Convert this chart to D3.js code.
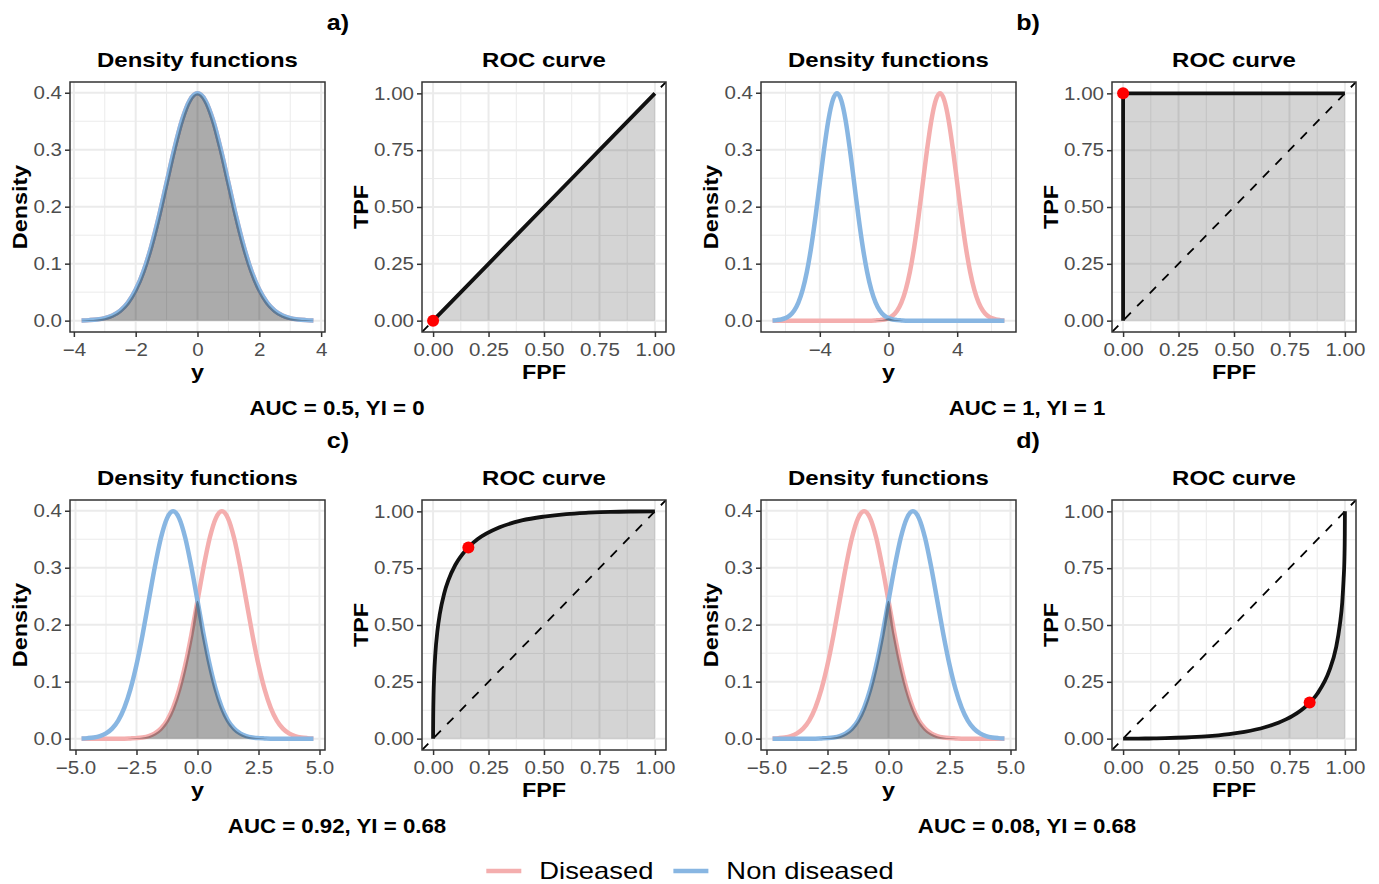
<!DOCTYPE html>
<html>
<head>
<meta charset="utf-8">
<script src="https://cdn.jsdelivr.net/npm/d3@7"></script>
<style>
body { margin: 0; background: #fff; }
text { font-family: "Liberation Sans", Arial, Helvetica, sans-serif; }
</style>
</head>
<body>
<svg id="chart" width="1379" height="884"></svg>
<script>
// ---- data ----
var panelTags = ["a)", "b)", "c)", "d)"];
var captions = ["AUC = 0.5, YI = 0", "AUC = 1, YI = 1", "AUC = 0.92, YI = 0.68", "AUC = 0.08, YI = 0.68"];
var groupNames = ["Diseased", "Non diseased"];

// centre of each density curve, per panel
var diseasedMeans = [0, 3, 1, -1];
var nonDiseasedMeans = [0, -3, -1, 1];

// height of a density curve at a distance from its centre
var densityOffsets = [-3.75, -3.5, -3.25, -3, -2.75, -2.5, -2.25, -2, -1.75, -1.5, -1.25, -1, -0.75, -0.5, -0.25, 0,
                      0.25, 0.5, 0.75, 1, 1.25, 1.5, 1.75, 2, 2.25, 2.5, 2.75, 3, 3.25, 3.5, 3.75];
var densityShape = [0.0004, 0.0009, 0.0020, 0.0044, 0.0091, 0.0175, 0.0317, 0.0540, 0.0863, 0.1295, 0.1826, 0.2420, 0.3011, 0.3521, 0.3867, 0.3989,
                    0.3867, 0.3521, 0.3011, 0.2420, 0.1826, 0.1295, 0.0863, 0.0540, 0.0317, 0.0175, 0.0091, 0.0044, 0.0020, 0.0009, 0.0004];

var densityYTicks = [0, 0.1, 0.2, 0.3, 0.4];
var densityXTicks = [[-4, -2, 0, 2, 4], [-4, 0, 4], [-5, -2.5, 0, 2.5, 5], [-5, -2.5, 0, 2.5, 5]];
var rocTicks = [0, 0.25, 0.5, 0.75, 1];

// ROC curves (FPF, TPF) per panel
var rocFPF = [
  [0, 0.25, 0.5, 0.75, 1],
  [0, 0.000001, 0.0001, 0.001, 0.01, 0.1, 1],
  [0, 0.00001, 0.0001, 0.0005, 0.001, 0.002, 0.005, 0.01, 0.02, 0.03, 0.05, 0.07, 0.1, 0.15, 0.2, 0.3, 0.4, 0.5, 0.6, 0.7, 0.8, 0.9, 1],
  [0, 0.012, 0.043, 0.099, 0.138, 0.190, 0.282, 0.372, 0.478, 0.547, 0.639, 0.700, 0.764, 0.8325, 0.877, 0.930, 0.960, 0.977, 0.988, 0.994, 0.998, 0.9995, 1]
];
var rocTPF = [
  [0, 0.25, 0.5, 0.75, 1],
  [0, 0.894, 0.989, 0.998, 0.99997, 1, 1],
  [0, 0.012, 0.043, 0.099, 0.138, 0.190, 0.282, 0.372, 0.478, 0.547, 0.639, 0.700, 0.764, 0.8325, 0.877, 0.930, 0.960, 0.977, 0.988, 0.994, 0.998, 0.9995, 1],
  [0, 0.00001, 0.0001, 0.0005, 0.001, 0.002, 0.005, 0.01, 0.02, 0.03, 0.05, 0.07, 0.1, 0.15, 0.2, 0.3, 0.4, 0.5, 0.6, 0.7, 0.8, 0.9, 1]
];

// optimal cut-off point (Youden) per panel
var cutFPF = [0, 0, 0.159, 0.841];
var cutTPF = [0, 1, 0.841, 0.159];

// ---- layout and style ----
var layout = {
  densityLeft: [70, 761, 70, 761],
  rocLeft: [422, 1112, 422, 1112],
  top: [82, 82, 500, 500],
  densityWidth: 255,
  rocWidth: 244,
  height: 250,
  tagX: [338, 1028, 338, 1028],
  tagY: [30, 30, 448, 448],
  captionX: [337, 1027, 337, 1027],
  captionY: [415, 415, 833, 833]
};
var colors = { diseased: "#F4AEAE", nonDiseased: "#88B6E2" };
var stretch = 1.14; // the glyphs in the picture are a bit wide

var svg = d3.select("#chart");

var stretchText = function(sel){
  sel.each(function(){
    var len = this.getComputedTextLength();
    d3.select(this).attr("textLength", len * stretch).attr("lengthAdjust", "spacingAndGlyphs");
  });
};

var expand = function(ext, frac){
  var pad = (ext[1] - ext[0]) * frac;
  return [ext[0] - pad, ext[1] + pad];
};

// minor breaks halfway between the majors
var minorTicks = function(ticks, domain){
  var step = ticks[1] - ticks[0];
  var out = [];
  for (var i = -1; i < ticks.length; i++) out.push(ticks[0] + (i + 0.5) * step);
  return out.filter(function(v){ return v >= domain[0] && v <= domain[1]; });
};

var clipCount = 0;

//draws background, grid, returns the plotting group
var makeFrame = function(p){
  var g = svg.append("g");
  g.append("rect").attr("x", p.left).attr("y", p.top)
    .attr("width", p.width).attr("height", p.height).attr("fill", "#fff");

  var xd = p.x.domain(), yd = p.y.domain();
  var grid = g.append("g").attr("stroke", "#EBEBEB");
  minorTicks(p.xTicks, xd).forEach(function(v){
    grid.append("line").attr("x1", p.x(v)).attr("x2", p.x(v))
      .attr("y1", p.top).attr("y2", p.top + p.height).attr("stroke-width", 1);
  });
  minorTicks(p.yTicks, yd).forEach(function(v){
    grid.append("line").attr("y1", p.y(v)).attr("y2", p.y(v))
      .attr("x1", p.left).attr("x2", p.left + p.width).attr("stroke-width", 1);
  });
  p.xTicks.forEach(function(v){
    grid.append("line").attr("x1", p.x(v)).attr("x2", p.x(v))
      .attr("y1", p.top).attr("y2", p.top + p.height).attr("stroke-width", 2);
  });
  p.yTicks.forEach(function(v){
    grid.append("line").attr("y1", p.y(v)).attr("y2", p.y(v))
      .attr("x1", p.left).attr("x2", p.left + p.width).attr("stroke-width", 2);
  });

  var id = "clip" + (clipCount++);
  svg.append("clipPath").attr("id", id).append("rect")
    .attr("x", p.left).attr("y", p.top).attr("width", p.width).attr("height", p.height);
  p.g = g;
  p.plot = g.append("g").attr("clip-path", "url(#" + id + ")");
  return p;
};

//border, axes and titles
var finishFrame = function(p){
  var g = p.g;
  g.append("rect").attr("x", p.left).attr("y", p.top)
    .attr("width", p.width).attr("height", p.height)
    .attr("fill", "none").attr("stroke", "#333").attr("stroke-width", 1.5);

  var gx = g.append("g").attr("transform", "translate(0," + (p.top + p.height) + ")")
    .call(d3.axisBottom(p.x).tickValues(p.xTicks).tickFormat(p.xFmt)
      .tickSize(5).tickSizeOuter(0).tickPadding(6));
  var gy = g.append("g").attr("transform", "translate(" + p.left + ",0)")
    .call(d3.axisLeft(p.y).tickValues(p.yTicks).tickFormat(p.yFmt)
      .tickSize(5).tickSizeOuter(0).tickPadding(3));
  [gx, gy].forEach(function(ax){
    ax.select(".domain").remove();
    ax.selectAll("line").attr("stroke", "#333").attr("stroke-width", 1.5);
    ax.selectAll("text").attr("fill", "#4D4D4D").style("font-size", "18px");
    stretchText(ax.selectAll("text"));
  });

  var cx = p.left + p.width / 2;
  var t = g.append("text").attr("x", cx).attr("y", p.top - 15)
    .attr("text-anchor", "middle").style("font-size", "21px").style("font-weight", "bold")
    .text(p.title);
  stretchText(t);

  var xl = g.append("text").attr("x", cx).attr("y", p.top + p.height + 47)
    .attr("text-anchor", "middle").style("font-size", "20.5px").style("font-weight", "bold")
    .text(p.xLabel);
  stretchText(xl);

  // tick label boxes are local to the axis group, which sits at p.left
  var labelLeft = p.left + d3.min(gy.selectAll("text").nodes(), function(n){ return n.getBBox().x; });
  var yl = g.append("text")
    .attr("transform", "translate(" + (labelLeft - 6) + "," + (p.top + p.height / 2) + ") rotate(-90)")
    .attr("text-anchor", "middle").style("font-size", "20.5px").style("font-weight", "bold")
    .text(p.yLabel);
  stretchText(yl);
};

var densityAt = function(x, mean){
  var i = densityOffsets.findIndex(function(o){ return Math.abs(mean + o - x) < 1e-9; });
  return i < 0 ? 0 : densityShape[i];
};

for (var i = 0; i < 4; i++){
  // ---- density panel ----
  var means = [diseasedMeans[i], nonDiseasedMeans[i]];
  var xs = [];
  means.forEach(function(m){ densityOffsets.forEach(function(o){ xs.push(m + o); }); });
  xs = d3.sort(Array.from(new Set(xs)));
  var rows = xs.map(function(x){
    return { x: x, d: densityAt(x, means[0]), n: densityAt(x, means[1]) };
  });

  var dx = d3.scaleLinear().domain(expand(d3.extent(xs), 0.05))
    .range([layout.densityLeft[i], layout.densityLeft[i] + layout.densityWidth]);
  var dy = d3.scaleLinear().domain(expand([0, d3.max(densityShape)], 0.05))
    .range([layout.top[i] + layout.height, layout.top[i]]);

  var dp = makeFrame({
    left: layout.densityLeft[i], top: layout.top[i], width: layout.densityWidth, height: layout.height,
    x: dx, y: dy, xTicks: densityXTicks[i], yTicks: densityYTicks,
    xFmt: i < 2 ? d3.format("d") : d3.format(".1f"), yFmt: d3.format(".1f"),
    title: "Density functions", xLabel: "y", yLabel: "Density"
  });

  var line = function(key){
    return d3.line().curve(d3.curveMonotoneX)
      .x(function(r){ return dx(r.x); }).y(function(r){ return dy(r[key]); });
  };
  dp.plot.append("path").datum(rows).attr("d", line("d"))
    .attr("fill", "none").attr("stroke", colors.diseased).attr("stroke-width", 4.5);
  dp.plot.append("path").datum(rows).attr("d", line("n"))
    .attr("fill", "none").attr("stroke", colors.nonDiseased).attr("stroke-width", 4.5);
  dp.plot.append("path").datum(rows)
    .attr("d", d3.area().curve(d3.curveMonotoneX)
      .x(function(r){ return dx(r.x); })
      .y0(dy(0))
      .y1(function(r){ return dy(Math.min(r.d, r.n)); }))
    .attr("fill", "#000").attr("fill-opacity", 0.33);
  finishFrame(dp);

  // ---- ROC panel ----
  var pts = rocFPF[i].map(function(f, j){ return { f: f, t: rocTPF[i][j] }; });
  var rx = d3.scaleLinear().domain(expand([0, 1], 0.05))
    .range([layout.rocLeft[i], layout.rocLeft[i] + layout.rocWidth]);
  var ry = d3.scaleLinear().domain(expand([0, 1], 0.05))
    .range([layout.top[i] + layout.height, layout.top[i]]);

  var rp = makeFrame({
    left: layout.rocLeft[i], top: layout.top[i], width: layout.rocWidth, height: layout.height,
    x: rx, y: ry, xTicks: rocTicks, yTicks: rocTicks,
    xFmt: d3.format(".2f"), yFmt: d3.format(".2f"),
    title: "ROC curve", xLabel: "FPF", yLabel: "TPF"
  });

  rp.plot.append("path").datum(pts)
    .attr("d", d3.area().curve(d3.curveMonotoneX)
      .x(function(p){ return rx(p.f); }).y0(ry(0)).y1(function(p){ return ry(p.t); }))
    .attr("fill", "#000").attr("fill-opacity", 0.17);
  rp.plot.append("line")
    .attr("x1", rx(-0.05)).attr("y1", ry(-0.05)).attr("x2", rx(1.05)).attr("y2", ry(1.05))
    .attr("stroke", "#000").attr("stroke-width", 1.8).attr("stroke-dasharray", "9,9");
  rp.plot.append("path").datum(pts)
    .attr("d", d3.line().curve(d3.curveMonotoneX)
      .x(function(p){ return rx(p.f); }).y(function(p){ return ry(p.t); }))
    .attr("fill", "none").attr("stroke", "#111").attr("stroke-width", 3.8);
  rp.g.append("circle").attr("cx", rx(cutFPF[i])).attr("cy", ry(cutTPF[i])).attr("r", 6)
    .attr("fill", "#FF0000");
  finishFrame(rp);

  // ---- tag and caption ----
  stretchText(svg.append("text").attr("x", layout.tagX[i]).attr("y", layout.tagY[i])
    .attr("text-anchor", "middle").style("font-size", "22px").style("font-weight", "bold")
    .text(panelTags[i]));
  stretchText(svg.append("text").attr("x", layout.captionX[i]).attr("y", layout.captionY[i])
    .attr("text-anchor", "middle").style("font-size", "19.5px").style("font-weight", "bold")
    .text(captions[i]));
}

// ---- legend ----
var legend = svg.append("g");
var legendColors = [colors.diseased, colors.nonDiseased];
var items = groupNames.map(function(name, k){
  var key = legend.append("line").attr("stroke", legendColors[k]).attr("stroke-width", 4.5)
    .attr("y1", 871).attr("y2", 871);
  var txt = legend.append("text").attr("y", 879).style("font-size", "24px").attr("fill", "#000").text(name);
  stretchText(txt);
  // length already includes the stretch
  return { key: key, txt: txt, w: txt.node().getComputedTextLength() };
});
var keyLen = 35, keyGap = 18, itemGap = 20;
var total = d3.sum(items, function(it){ return keyLen + keyGap + it.w; }) + itemGap * (items.length - 1);
var cursor = 690 - total / 2;
items.forEach(function(it){
  it.key.attr("x1", cursor).attr("x2", cursor + keyLen);
  it.txt.attr("x", cursor + keyLen + keyGap);
  cursor += keyLen + keyGap + it.w + itemGap;
});
</script>
</body>
</html>
